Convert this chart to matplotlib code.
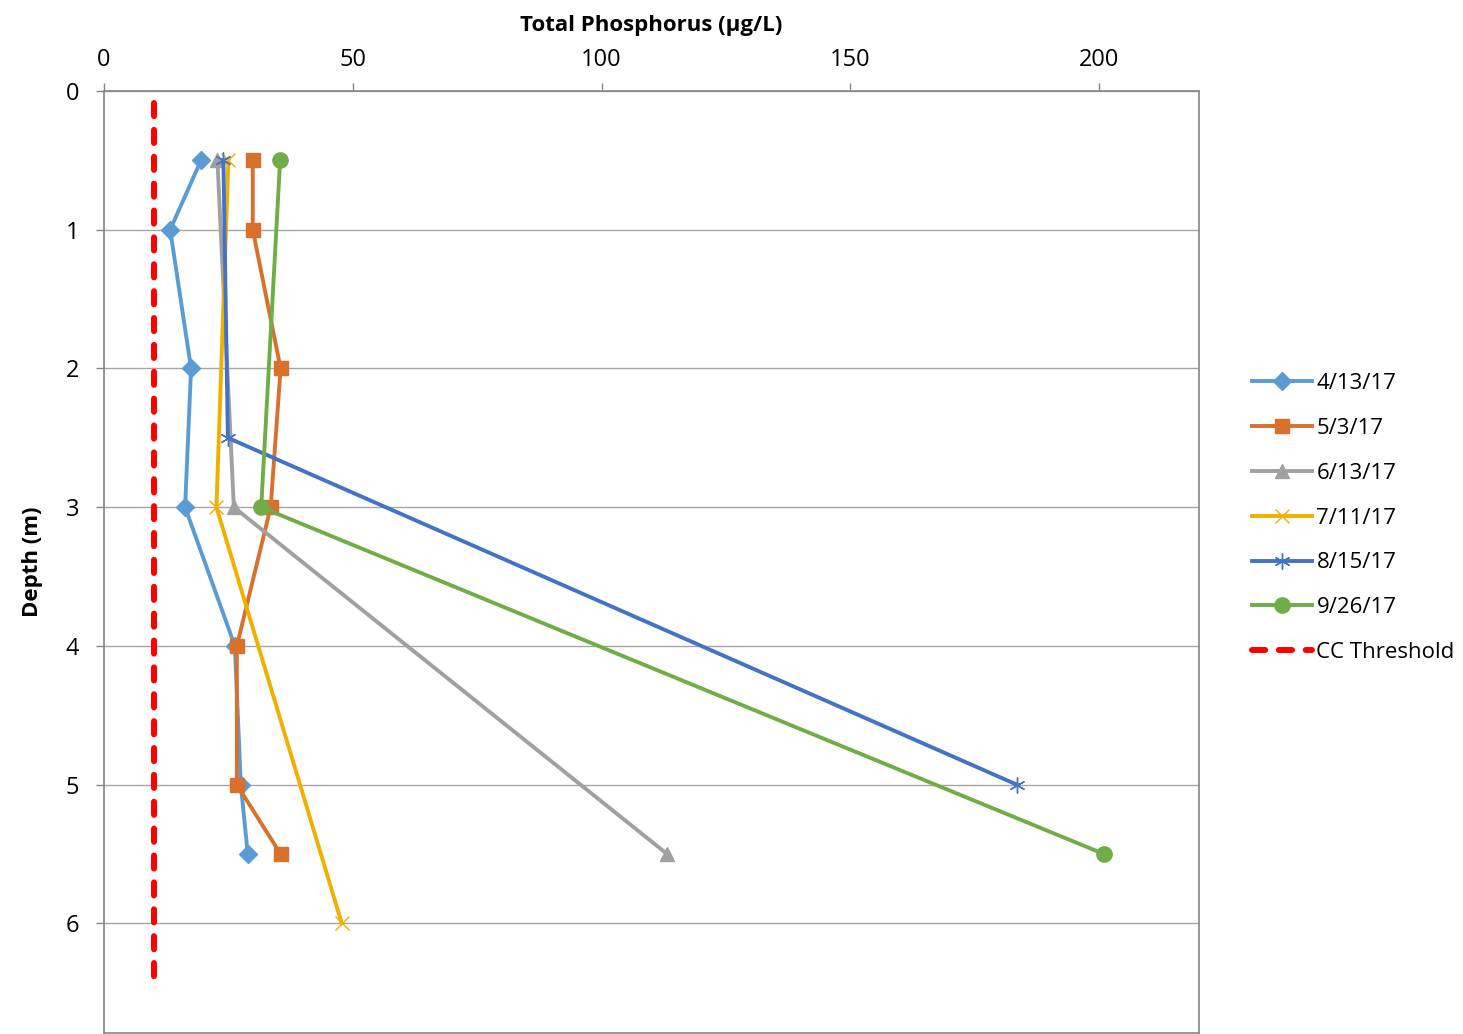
import matplotlib
matplotlib.use("Agg")
import matplotlib.pyplot as plt

plt.rcParams['font.family'] = ['Open Sans', 'DejaVu Sans']

# depth (m) and total phosphorus (ug/L) per sampling date
d_0413 = [0.5, 1, 2, 3, 4, 5, 5.5]
p_0413 = [19.5, 13.3, 17.5, 16.3, 26.3, 27.5, 28.9]
d_0503 = [0.5, 1, 2, 3, 4, 5, 5.5]
p_0503 = [29.9, 29.9, 35.5, 33.5, 26.7, 26.7, 35.5]
d_0613 = [0.5, 3, 5.5]
p_0613 = [22.8, 26.1, 113.2]
d_0711 = [0.5, 3, 6]
p_0711 = [25.0, 22.6, 47.8]
d_0815 = [0.5, 2.5, 5]
p_0815 = [24.0, 24.9, 183.5]
d_0926 = [0.5, 3, 5.5]
p_0926 = [35.4, 31.6, 201.0]
thresh_depth = [0.09, 6.46]
thresh_val = [10, 10]

W, H = 1463, 1034
fig = plt.figure(figsize=(W / 100, H / 100), dpi=100)
ax = fig.add_axes([104 / W, 1 / H, 1094.5 / W, 942 / H])

series = [
    (p_0413, d_0413, '4/13/17', '#5B9BD5', 'D', 9.5, 1),
    (p_0503, d_0503, '5/3/17', '#D9702C', 's', 10, 1),
    (p_0613, d_0613, '6/13/17', '#A0A0A0', '^', 10, 1),
    (p_0711, d_0711, '7/11/17', '#F0B000', 'x', 10.5, 1),
    (p_0815, d_0815, '8/15/17', '#4472C4', (6, 2, 0), 11.5, 1),
    (p_0926, d_0926, '9/26/17', '#70AD47', 'o', 11, 1),
]
for x, y, lab, col, mk, ms, mew in series:
    ax.plot(x, y, color=col, lw=2.8, marker=mk, ms=ms, mew=mew,
            mec=col, mfc=col, label=lab)

ax.plot(thresh_val, thresh_depth, color='#FF0000', lw=4.3,
        dashes=(2.2, 2.3), dash_capstyle='round', label='CC Threshold')

ax.set_xlim(0, 220)
ax.set_ylim(6.79, 0)
ax.set_xticks([0, 50, 100, 150, 200])
ax.set_yticks([0, 1, 2, 3, 4, 5, 6])
ax.xaxis.tick_top()
ax.xaxis.set_label_position('top')
ax.tick_params(axis='both', direction='out', length=6, width=1,
               color='#868686', labelsize=17, pad=8)
ax.tick_params(axis='y', pad=12)
ax.grid(axis='y', color='#A6A6A6', lw=1)
ax.set_axisbelow(True)
for s in ax.spines.values():
    s.set_color('#868686')
    s.set_linewidth(1.2)

ax.set_xlabel('Total Phosphorus (\u00b5g/L)', fontsize=16, fontweight='bold', labelpad=12)
ax.set_ylabel('Depth (m)', fontsize=16, fontweight='bold', labelpad=16)

ax.legend(loc='center left', bbox_to_anchor=(1252 / W, 0.499),
          bbox_transform=fig.transFigure, frameon=False, fontsize=16,
          handlelength=2.7, handletextpad=0.2, labelspacing=1.07,
          borderpad=0, borderaxespad=0)

fig.savefig('out.png', dpi=100)
